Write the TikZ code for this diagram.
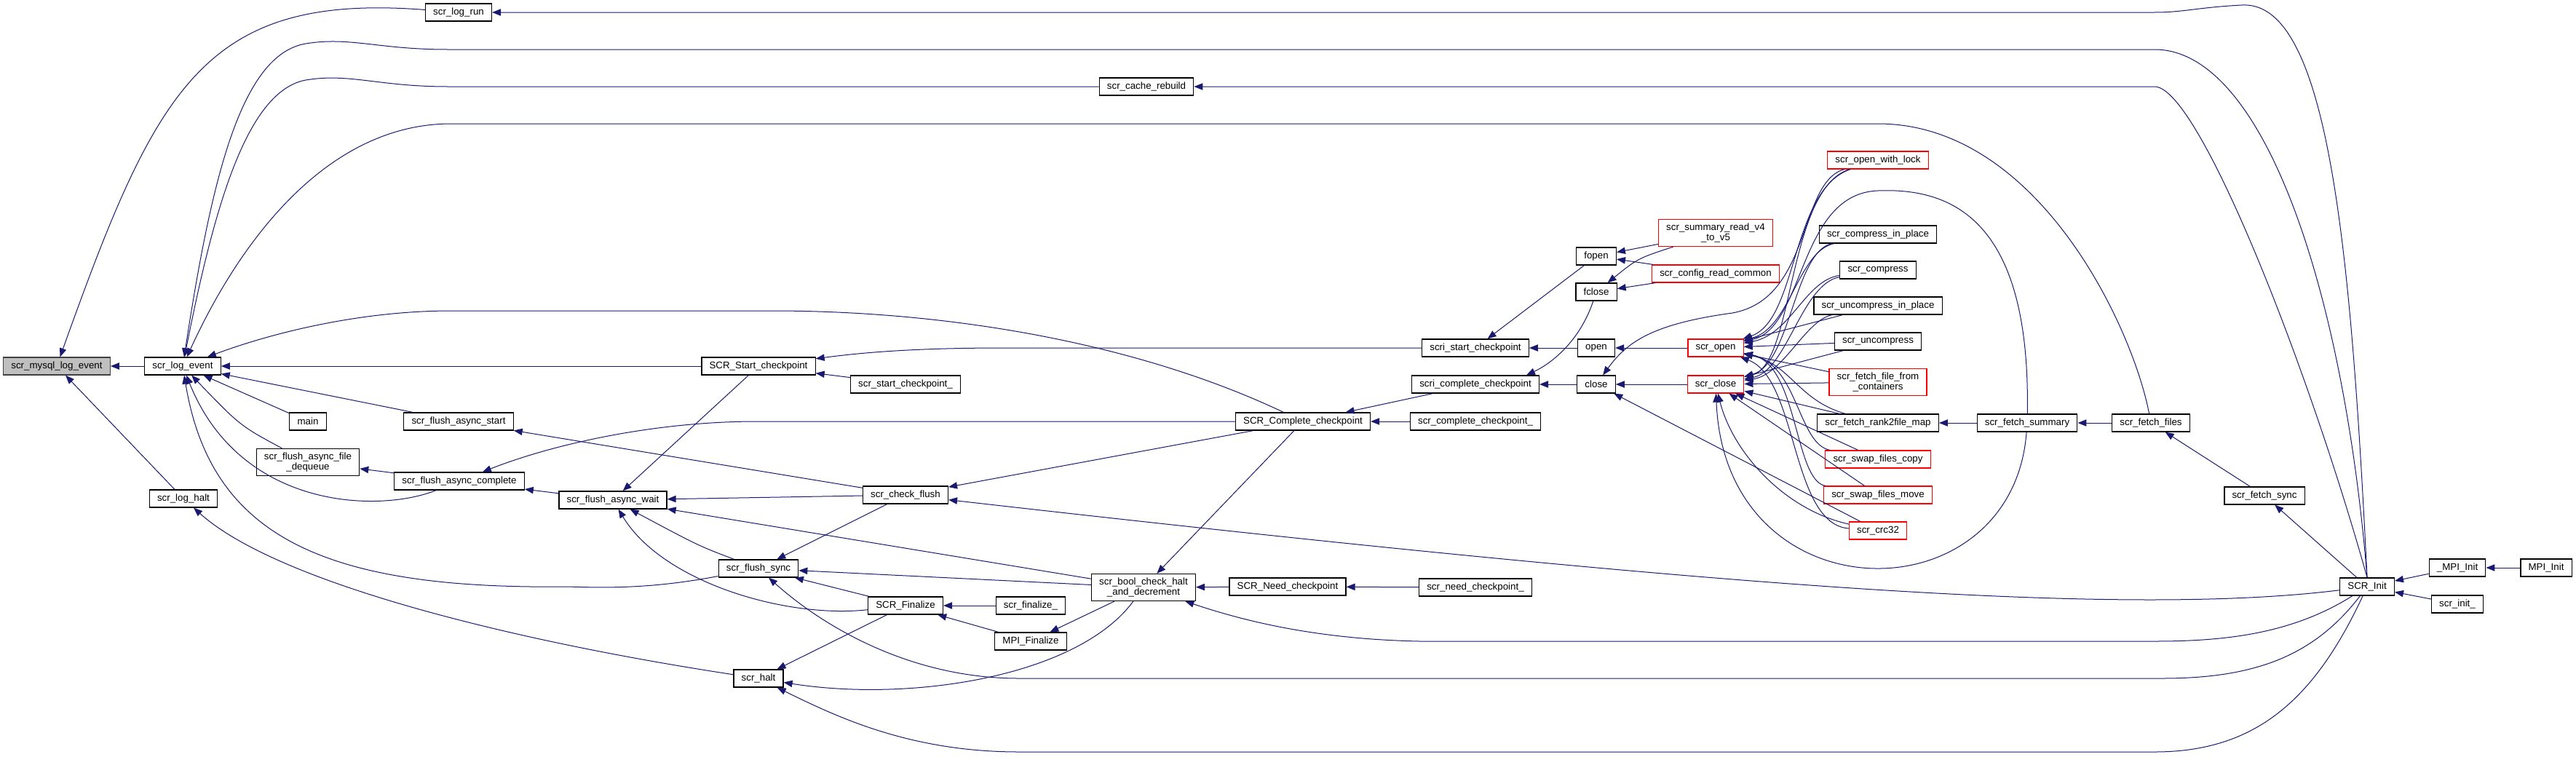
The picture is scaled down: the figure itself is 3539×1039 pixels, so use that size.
\documentclass[tikz,border=0pt]{standalone}
\usepackage{fontspec}
\setmainfont{Liberation Sans}
\usepackage{tikz}
\usetikzlibrary{arrows.meta,calc}
\definecolor{callline}{HTML}{191970}
\definecolor{rootfill}{HTML}{BFBFBF}
\definecolor{truncated}{HTML}{FF0000}
\tikzset{
  fn/.style={
    draw=black,
    line width=0.9pt,
    fill=white,
    align=center,
    font=\fontsize{10}{10.5}\selectfont,
    inner xsep=8pt,
    inner ysep=2pt,
    minimum height=18pt
  },
  twoline/.style={minimum height=27.75pt},
  root/.style={fill=rootfill, draw=black!75},
  trunc/.style={draw=truncated},
  call/.style={draw=callline, line width=0.75pt, -{Triangle[length=9pt,width=7pt]}}
}

\begin{document}
\begin{tikzpicture}[x=0.75pt,y=-0.75pt]
\path[use as bounding box] (0,0) rectangle (3539,1039);
\fill[white] (0,0) rectangle (3539,1039);

\node[fn, root] (mysql) at (78,503) {scr\_mysql\_log\_event};
\node[fn] (logevent) at (251,503) {scr\_log\_event};
\node[fn] (loghalt) at (252,685) {scr\_log\_halt};
\node[fn] (logrun) at (630,17) {scr\_log\_run};
\node[fn] (main) at (423,579) {main};
\node[fn, twoline] (dequeue) at (423,635) {scr\_flush\_async\_file\\\_dequeue};
\node[fn] (asyncstart) at (630,579) {scr\_flush\_async\_start};
\node[fn] (asynccomplete) at (631,661) {scr\_flush\_async\_complete};
\node[fn] (asyncwait) at (842,687) {scr\_flush\_async\_wait};
\node[fn] (startcp) at (1042,503) {SCR\_Start\_checkpoint};
\node[fn] (flushsync) at (1042,781) {scr\_flush\_sync};
\node[fn] (halt) at (1042,932) {scr\_halt};
\node[fn] (startcpf) at (1244,528) {scr\_start\_checkpoint\_};
\node[fn] (checkflush) at (1244,680) {scr\_check\_flush};
\node[fn] (finalize) at (1244,832) {SCR\_Finalize};
\node[fn] (finalizef) at (1416,832) {scr\_finalize\_};
\node[fn] (mpifinalize) at (1416,881) {MPI\_Finalize};
\node[fn] (cache) at (1575,119) {scr\_cache\_rebuild};
\node[fn, twoline] (boolcheck) at (1571,807) {scr\_bool\_check\_halt\\\_and\_decrement};
\node[fn] (needcp) at (1769,806) {SCR\_Need\_checkpoint};
\node[fn] (completecp) at (1790,579) {SCR\_Complete\_checkpoint};
\node[fn] (completecpf) at (2027,579) {scr\_complete\_checkpoint\_};
\node[fn] (needcpf) at (2027,807) {scr\_need\_checkpoint\_};
\node[fn] (scristart) at (2027,478) {scri\_start\_checkpoint};
\node[fn] (scricomplete) at (2027,528) {scri\_complete\_checkpoint};
\node[fn] (fopen) at (2193,352) {fopen};
\node[fn] (fclose) at (2193,401) {fclose};
\node[fn] (sysopen) at (2193,478) {open};
\node[fn] (sysclose) at (2193,528) {close};
\node[fn, trunc, twoline] (summaryrd) at (2357,320) {scr\_summary\_read\_v4\\\_to\_v5};
\node[fn, trunc] (configrd) at (2357,376) {scr\_config\_read\_common};
\node[fn, trunc] (scropen) at (2357,478) {scr\_open};
\node[fn, trunc] (scrclose) at (2357,528) {scr\_close};
\node[fn, trunc] (openlock) at (2580,220) {scr\_open\_with\_lock};
\node[fn] (cip) at (2580,322) {scr\_compress\_in\_place};
\node[fn] (compress) at (2580,371) {scr\_compress};
\node[fn] (uip) at (2580,420) {scr\_uncompress\_in\_place};
\node[fn] (uncompress) at (2580,469) {scr\_uncompress};
\node[fn, trunc, twoline] (ffc) at (2580,525) {scr\_fetch\_file\_from\\\_containers};
\node[fn] (rank2file) at (2580,581) {scr\_fetch\_rank2file\_map};
\node[fn, trunc] (swapcopy) at (2580,631) {scr\_swap\_files\_copy};
\node[fn, trunc] (swapmove) at (2580,680) {scr\_swap\_files\_move};
\node[fn, trunc] (crc32) at (2580,729) {scr\_crc32};
\node[fn] (fetchsummary) at (2785,581) {scr\_fetch\_summary};
\node[fn] (fetchfiles) at (2955,581) {scr\_fetch\_files};
\node[fn] (fetchsync) at (3111,681) {scr\_fetch\_sync};
\node[fn] (init) at (3252,806) {SCR\_Init};
\node[fn] (mpiinitu) at (3376,780) {\_MPI\_Init};
\node[fn] (mpiinit) at (3498,780) {MPI\_Init};
\node[fn] (initf) at (3376,830) {scr\_init\_};

\draw[call] (logevent) -- (mysql);
\draw[call] (logrun) .. controls (280,-10) and (215,120) .. (mysql);
\draw[call] (loghalt) -- (mysql);
\draw[call] (init.north) .. controls (3230,350) and (3200,0) .. (3080,7) .. controls (3020,10) and (3000,17) .. (2960,17) -- (logrun);
\draw[call] (init.north) .. controls (3220,400) and (3110,68) .. (2960,68) -- (615,68) .. controls (520,68) and (480,50) .. (420,60) .. controls (330,75) and (290,250) .. (logevent);
\draw[call] (init.north) .. controls (3170,500) and (3020,119) .. (2960,119) -- (cache);
\draw[call] (cache) -- (615,119) .. controls (520,119) and (480,100) .. (420,110) .. controls (340,125) and (295,280) .. (logevent);
\draw[call] (fetchfiles) .. controls (2930,450) and (2800,170) .. (2580,170) -- (620,170) .. controls (450,170) and (330,330) .. (logevent);
\draw[call] (completecp) .. controls (1560,470) and (1300,427) .. (1060,427) -- (620,427) .. controls (500,427) and (380,455) .. (logevent);
\draw[call] (startcp) -- (logevent);
\draw[call] (asyncstart) -- (logevent);
\draw[call] (main) -- (logevent);
\draw[call] (dequeue) .. controls (330,585) .. (logevent);
\draw[call] (asynccomplete) .. controls (520,705) and (330,700) .. (logevent);
\draw[call] (flushsync) .. controls (900,808) and (840,808) .. (780,806) .. controls (450,810) and (290,740) .. (logevent);
\draw[call] (startcp) -- (asyncwait);
\draw[call] (asyncwait) -- (asynccomplete);
\draw[call] (asynccomplete) -- (dequeue);
\draw[call] (checkflush) -- (asyncstart);
\draw[call] (checkflush) -- (asyncwait);
\draw[call] (flushsync) .. controls (960,750) .. (asyncwait);
\draw[call] (finalize) .. controls (1080,850) and (910,800) .. (asyncwait);
\draw[call] (boolcheck) -- (asyncwait);
\draw[call] (checkflush) -- (flushsync);
\draw[call] (finalize) -- (flushsync);
\draw[call] (boolcheck) -- (flushsync);
\draw[call] (init) .. controls (3180,900) and (3100,932) .. (2970,932) -- (1400,932) .. controls (1250,932) and (1130,860) .. (flushsync);
\draw[call] (finalize) -- (halt);
\draw[call] (boolcheck) .. controls (1480,930) and (1250,965) .. (halt);
\draw[call] (init) .. controls (3180,960) and (3100,1033) .. (2960,1033) -- (1400,1033) .. controls (1250,1033) and (1150,985) .. (halt);
\draw[call] (halt) .. controls (700,880) and (380,800) .. (loghalt);
\draw[call] (init) .. controls (3150,870) and (3060,881) .. (2960,881) -- (1950,881) .. controls (1800,878) and (1700,850) .. (boolcheck);
\draw[call] (init) .. controls (2900,850) and (2300,800) .. (checkflush);
\draw[call] (completecp) -- (checkflush);
\draw[call] (completecp) -- (boolcheck);
\draw[call] (completecp) -- (1040,579) .. controls (900,579) and (760,610) .. (asynccomplete);
\draw[call] (needcp) -- (boolcheck);
\draw[call] (needcpf) -- (needcp);
\draw[call] (boolcheck) -- (mpifinalize);
\draw[call] (mpifinalize) -- (finalize);
\draw[call] (finalizef) -- (finalize);
\draw[call] (scristart) -- (1380,478) .. controls (1250,478) and (1180,485) .. (startcp);
\draw[call] (startcpf) -- (startcp);
\draw[call] (scricomplete) -- (completecp);
\draw[call] (completecpf) -- (completecp);
\draw[call] (sysopen) -- (scristart);
\draw[call] (fopen) -- (scristart);
\draw[call] (sysclose) -- (scricomplete);
\draw[call] (fclose) .. controls (2170,470) and (2130,500) .. ($(scricomplete.north east)+(-18,0)$);
\draw[call] (summaryrd) -- (fopen);
\draw[call] (configrd) -- (fopen);
\draw[call] (summaryrd) .. controls (2250,355) .. (fclose);
\draw[call] (configrd) -- (fclose);
\draw[call] (scropen) -- (sysopen);
\draw[call] (scrclose) -- (sysclose);
\draw[call] (crc32) -- (sysclose);
\draw[call] (openlock) .. controls (2470,250) and (2490,410) .. (2380,430) .. controls (2270,445) and (2235,470) .. (sysclose);
\draw[call] (openlock) .. controls (2460,260) and (2470,440) .. (scropen);
\draw[call] (openlock) .. controls (2455,260) and (2465,500) .. (scrclose);
\draw[call] (fetchsummary) .. controls (2790,300) and (2680,258) .. (2580,262) .. controls (2470,266) and (2480,450) .. (scropen);
\draw[call] (fetchsummary) .. controls (2765,850) and (2370,850) .. (scrclose);
\draw[call] (cip) .. controls (2470,345) and (2460,450) .. (scropen);
\draw[call] (cip) .. controls (2465,345) and (2460,500) .. (scrclose);
\draw[call] (compress) .. controls (2480,385) and (2460,460) .. (scropen);
\draw[call] (compress) .. controls (2475,390) and (2455,510) .. (scrclose);
\draw[call] (uip) -- (scropen);
\draw[call] (uip) .. controls (2480,440) and (2450,515) .. (scrclose);
\draw[call] (uncompress) -- (scropen);
\draw[call] (uncompress) -- (scrclose);
\draw[call] (ffc) -- (scropen);
\draw[call] (ffc) -- (scrclose);
\draw[call] (rank2file) -- (scrclose);
\draw[call] (rank2file) .. controls (2470,550) and (2460,500) .. (scropen);
\draw[call] (swapcopy) -- (scrclose);
\draw[call] (swapcopy) .. controls (2470,610) and (2470,500) .. (scropen);
\draw[call] (swapmove) -- (scrclose);
\draw[call] (swapmove) .. controls (2465,660) and (2470,500) .. (scropen);
\draw[call] (crc32) .. controls (2460,720) and (2470,520) .. (scropen);
\draw[call] (crc32) .. controls (2450,700) and (2380,620) .. (scrclose);
\draw[call] (fetchsummary) -- (rank2file);
\draw[call] (fetchfiles) -- (fetchsummary);
\draw[call] (fetchsync) -- (fetchfiles);
\draw[call] (init) -- (fetchsync);
\draw[call] (mpiinitu) -- (init);
\draw[call] (mpiinit) -- (mpiinitu);
\draw[call] (initf) -- (init);
\end{tikzpicture}
\end{document}
